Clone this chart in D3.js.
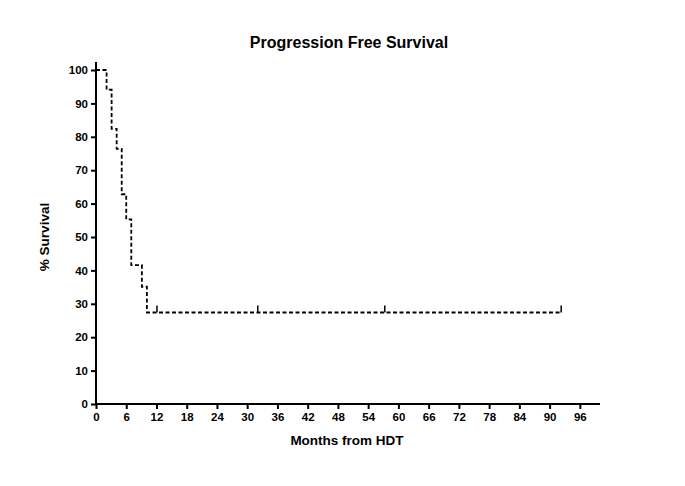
<!DOCTYPE html>
<html><head><meta charset="utf-8">
<script src="https://cdn.jsdelivr.net/npm/d3@7"></script>
<style>body{margin:0;background:#fff}svg{display:block}text{font-family:"Liberation Sans",Arial,sans-serif;font-weight:bold;fill:#000}</style>
</head><body><svg id="c" width="685" height="486"></svg>
<script>
// Kaplan-Meier steps: time (months) and survival (%)
const stepTimes = [0, 2.1, 3.1, 4.1, 5.1, 6.0, 7.0, 9.1, 10.1, 92.3];
const stepSurv  = [100, 94.1, 82.4, 76.4, 62.8, 55.3, 41.6, 35.1, 27.4, 27.4];
const censorTimes = [12.1, 32.1, 57.3, 92.3];
const censorSurv  = [27.4, 27.4, 27.4, 27.4];
const xTicks = [0,6,12,18,24,30,36,42,48,54,60,66,72,78,84,90,96];
const yTicks = [0,10,20,30,40,50,60,70,80,90,100];

const svg = d3.select("#c");
const x = d3.scaleLinear().domain([0,100]).range([96,600]);
const y = d3.scaleLinear().domain([0,100]).range([404,70]);

svg.append("text").attr("x",349).attr("y",48).attr("text-anchor","middle")
  .style("font-size","16px").text("Progression Free Survival");

const gx = svg.append("g").attr("transform","translate(0,404)")
  .call(d3.axisBottom(x).tickValues(xTicks).tickSize(5).tickPadding(4));
const gy = svg.append("g").attr("transform","translate(96,0)")
  .call(d3.axisLeft(y).tickValues(yTicks).tickSize(5).tickPadding(3));
[gx,gy].forEach(g=>{
  g.select(".domain").remove();
  g.selectAll(".tick line").attr("stroke","#000").attr("stroke-width",2);
  g.selectAll(".tick text").style("font-size","11.5px").style("font-family","'Liberation Sans',Arial,sans-serif").style("font-weight","bold");
});
svg.append("line").attr("x1",96).attr("x2",96).attr("y1",y(102.4)).attr("y2",405)
  .attr("stroke","#000").attr("stroke-width",2);
svg.append("line").attr("x1",95).attr("x2",x(100)).attr("y1",404).attr("y2",404)
  .attr("stroke","#000").attr("stroke-width",2);

svg.append("text").attr("x",347).attr("y",445).attr("text-anchor","middle")
  .style("font-size","13.5px").text("Months from HDT");
svg.append("text").attr("transform","translate(49,237) rotate(-90)").attr("text-anchor","middle")
  .style("font-size","13.5px").text("% Survival");

const pts = stepTimes.map((t,i)=>[t,stepSurv[i]]);
const line = d3.line().x(d=>x(d[0])).y(d=>y(d[1])).curve(d3.curveStepAfter);
svg.append("path").attr("d",line(pts)).attr("fill","none").attr("stroke","#000")
  .attr("stroke-width",1.8).attr("stroke-dasharray","4,2.5");

svg.selectAll(".cens").data(censorTimes).join("line")
  .attr("x1",d=>x(d)).attr("x2",d=>x(d))
  .attr("y1",(d,i)=>y(censorSurv[i])).attr("y2",(d,i)=>y(censorSurv[i])-7)
  .attr("stroke","#000").attr("stroke-width",1.5);
</script></body></html>
